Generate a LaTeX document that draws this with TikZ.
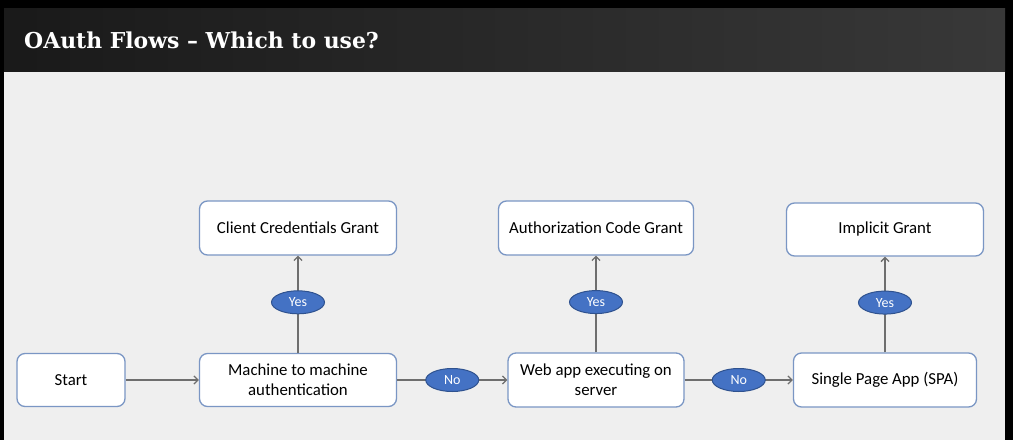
\documentclass[tikz,border=0pt]{standalone}
\usepackage{fontspec}
\setmainfont{Carlito}
\newfontfamily\titlefont{DejaVu Serif}
\usetikzlibrary{shapes.geometric, arrows.meta}
\definecolor{boxline}{HTML}{7A96C4}
\definecolor{ovalfill}{HTML}{4472C4}
\definecolor{ovalline}{HTML}{2F528F}
\definecolor{arrowgray}{HTML}{6E6E6E}
\definecolor{slidebg}{HTML}{EFEFEF}
\tikzset{> = {Straight Barb[length=4pt, width=8pt]},
  stepbox/.style = {draw=boxline, fill=white, rounded corners=8pt, line width=1.3pt,
    align=center, font=\fontsize{16.8}{20}\selectfont, inner sep=0pt},
  answer/.style = {ellipse, draw=ovalline, fill=ovalfill, text=white,
    minimum width=53pt, minimum height=23pt, inner sep=0pt, line width=1pt,
    font=\fontsize{14}{16}\selectfont}
}

\begin{document}
\begin{tikzpicture}[x=1pt, y=-1pt]
% slide background
\fill[black] (0,0) rectangle (1013,440);
\shade[left color=black!90, right color=black!78] (4,8) rectangle (1005,72);
\fill[slidebg] (4,72) rectangle (1005,440);
\useasboundingbox (0,0) rectangle (1013,440);
\node[anchor=base west, text=white, inner sep=0pt, font=\titlefont\bfseries\fontsize{21.9}{24}\selectfont]
  (title) at (24,48.5) {OAuth Flows – Which to use?};
% nodes
\node[stepbox, minimum width=108pt, minimum height=53pt] (start) at (71,380) {Start};
\node[stepbox, minimum width=197pt, minimum height=53pt] (m2m) at (298,380) {Machine to machine\\authentication};
\node[stepbox, minimum width=176pt, minimum height=54pt] (webapp) at (596,380) {Web app executing on\\server};
\node[stepbox, minimum width=183pt, minimum height=54pt] (spa) at (885,380) {Single Page App (SPA)};
\node[stepbox, minimum width=197pt, minimum height=54pt] (ccgrant) at (298,228) {Client Credentials Grant};
\node[stepbox, minimum width=195pt, minimum height=54pt] (acgrant) at (596,228) {Authorization Code Grant};
\node[stepbox, minimum width=197pt, minimum height=53pt] (implicit) at (885,229.5) {Implicit Grant};
% edges
\draw[->, arrowgray, line width=1.3pt]
(start) edge (m2m)
(m2m) edge node[answer] (no1) {No} (webapp)
(webapp) edge node[answer] (no2) {No} (spa)
(m2m) edge node[answer, pos=0.52] (yes1) {Yes} (ccgrant)
(webapp) edge node[answer, pos=0.52] (yes2) {Yes} (acgrant)
(spa) edge node[answer, pos=0.52] (yes3) {Yes} (implicit);
\end{tikzpicture}
\end{document}
